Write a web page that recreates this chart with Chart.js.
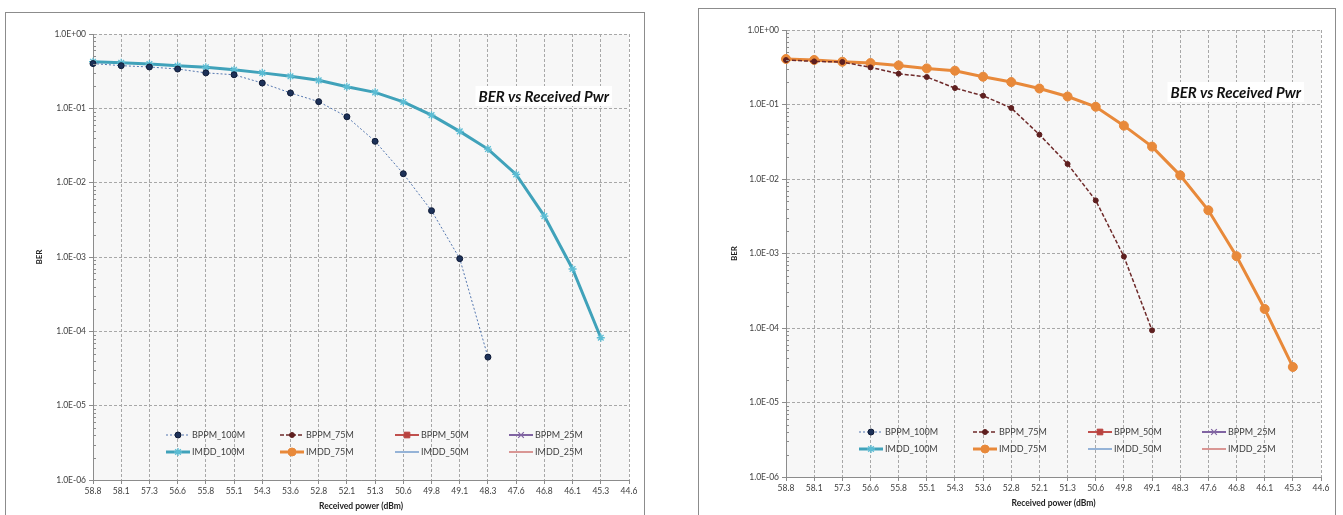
<!DOCTYPE html>
<html>
<head>
<meta charset="utf-8">
<script src="https://cdn.jsdelivr.net/npm/chart.js@4.4.1/dist/chart.umd.min.js"></script>
<style>
html, body { margin:0; padding:0; background:#fff; overflow:hidden; width:1343px; height:515px; }
.frame { position:absolute; border:1px solid #8c8c8c; box-sizing:border-box; }
canvas { position:absolute; top:0; }
</style>
</head>
<body>
<div class="frame" style="left:5px;top:12px;width:640px;height:520px"></div>
<div class="frame" style="left:698px;top:8px;width:638px;height:520px"></div>
<canvas id="chart-left" width="671" height="515" style="left:0"></canvas>
<canvas id="chart-right" width="672" height="515" style="left:671px"></canvas>
<script>
// x categories (received power, dBm)
const powerLabels = ['58.8','58.1','57.3','56.6','55.8','55.1','54.3','53.6','52.8','52.1',
                     '51.3','50.6','49.8','49.1','48.3','47.6','46.8','46.1','45.3','44.6'];
// log axis decades + their labels
const berTicks = [1e-6, 1e-5, 1e-4, 1e-3, 1e-2, 1e-1, 1];
const berLabels = ['1.0E-06','1.0E-05','1.0E-04','1.0E-03','1.0E-02','1.0E-01','1.0E+00'];
const seriesNames = ['BPPM_100M','BPPM_75M','BPPM_50M','BPPM_25M','IMDD_100M','IMDD_75M','IMDD_50M','IMDD_25M'];

// left chart
const bppm100 = [0.40, 0.375, 0.36, 0.338, 0.30, 0.283, 0.219, 0.161, 0.123, 0.077,
                 0.036, 0.0132, 0.0042, 0.00095, 0.000045];
const imdd100 = [0.424, 0.41, 0.395, 0.375, 0.356, 0.331, 0.30, 0.27, 0.238, 0.195,
                 0.164, 0.122, 0.081, 0.049, 0.0283, 0.0129, 0.00355, 0.00069, 0.000082];
// right chart
const bppm75 = [0.395, 0.379, 0.372, 0.315, 0.259, 0.234, 0.166, 0.131, 0.0898, 0.0394,
                0.0159, 0.00516, 0.00091, 0.000093];
const imdd75 = [0.408, 0.396, 0.375, 0.36, 0.335, 0.305, 0.284, 0.236, 0.20, 0.164,
                0.128, 0.0933, 0.052, 0.0272, 0.0112, 0.0038, 0.00092, 0.00018, 0.00003];

const chartTitle = 'BER vs Received Pwr';
const xTitle = 'Received power (dBm)';
const yTitle = 'BER';

const FONT = 'Lato, "Open Sans", sans-serif';
const TXT = '#404040';

// series looks (Excel defaults)
const looks = {
  BPPM_100M: {borderColor:'#5577b0', borderWidth:1, borderDash:[2,2], pointStyle:'circle', pointRadius:3,
              pointBackgroundColor:'#1d3158', pointBorderColor:'#0e1a36', pointBorderWidth:1, order:1},
  BPPM_75M:  {borderColor:'#6e2a2a', borderWidth:1.5, borderDash:[4,2], pointStyle:'circle', pointRadius:2.5,
              pointBackgroundColor:'#5e1f1f', pointBorderColor:'#5e1f1f', pointBorderWidth:1, order:1},
  BPPM_50M:  {borderColor:'#c0504d', borderWidth:2, borderDash:[], pointStyle:'rect', pointRadius:4,
              pointBackgroundColor:'#b8423f', pointBorderColor:'#b8423f', pointBorderWidth:1, order:3},
  BPPM_25M:  {borderColor:'#8064a2', borderWidth:2, borderDash:[], pointStyle:'crossRot', pointRadius:4,
              pointBackgroundColor:'#8064a2', pointBorderColor:'#8064a2', pointBorderWidth:1.2, order:3},
  IMDD_100M: {borderColor:'#40a2ba', borderWidth:3, borderDash:[], pointStyle:'star', pointRadius:4,
              pointBackgroundColor:'#5cbdd4', pointBorderColor:'#5cbdd4', pointBorderWidth:1.3, order:2},
  IMDD_75M:  {borderColor:'#e8893a', borderWidth:3, borderDash:[], pointStyle:'circle', pointRadius:4.5,
              pointBackgroundColor:'#e8893a', pointBorderColor:'#e8893a', pointBorderWidth:1, order:2},
  IMDD_50M:  {borderColor:'#95b3d7', borderWidth:2, borderDash:[], pointStyle:'line', pointRadius:4,
              pointBackgroundColor:'#95b3d7', pointBorderColor:'#95b3d7', pointBorderWidth:1, order:3},
  IMDD_25M:  {borderColor:'#d99694', borderWidth:2, borderDash:[], pointStyle:'circle', pointRadius:0,
              pointBackgroundColor:'#d99694', pointBorderColor:'#d99694', pointBorderWidth:0, order:3}
};

function marker(ctx, style, r, x, y) {
  if (!r) return;
  if (Chart.helpers && Chart.helpers.drawPoint) {
    Chart.helpers.drawPoint(ctx, {pointStyle: style, radius: r, rotation: 0, borderWidth: ctx.lineWidth}, x, y);
    return;
  }
  ctx.beginPath(); ctx.arc(x, y, r, 0, Math.PI * 2); ctx.fill(); ctx.stroke();
}

const decor = {
  id: 'decor',
  beforeDraw(chart) {
    const a = chart.chartArea, ctx = chart.ctx;
    ctx.save();
    ctx.fillStyle = '#f7f7f7';
    ctx.fillRect(a.left, a.top, a.right - a.left, a.bottom - a.top);
    ctx.restore();
  },
  afterDraw(chart) {
    const a = chart.chartArea, ctx = chart.ctx, y = chart.scales.y;
    ctx.save();
    // minor log ticks on the value axis
    ctx.strokeStyle = '#8c8c8c'; ctx.lineWidth = 1;
    for (let i = 0; i < berTicks.length - 1; i++) {
      for (let m = 2; m < 10; m++) {
        const py = Math.round(y.getPixelForValue(berTicks[i] * m)) + 0.5;
        ctx.beginPath(); ctx.moveTo(a.left, py); ctx.lineTo(a.left + 3, py); ctx.stroke();
      }
    }
    // title box
    ctx.font = 'italic bold 15px ' + FONT;
    const w = ctx.measureText(chartTitle).width;
    const tx = a.right - 20, ty = a.top + 62;
    ctx.fillStyle = '#fff';
    ctx.fillRect(tx - w - 3, ty - 10, w + 6, 20);
    ctx.fillStyle = '#111';
    ctx.textAlign = 'right'; ctx.textBaseline = 'middle';
    ctx.fillText(chartTitle, tx, ty + 1);
    // legend, 4 columns x 2 rows inside the plot
    const cols = [73, 187, 302, 416], rows = [45, 28];
    ctx.font = '9px ' + FONT; ctx.textAlign = 'left';
    chart.data.datasets.forEach((ds, i) => {
      const lx = a.left + cols[i % 4], ly = a.bottom - rows[Math.floor(i / 4)];
      ctx.strokeStyle = ds.borderColor; ctx.lineWidth = ds.borderWidth;
      ctx.setLineDash(ds.borderDash || []);
      ctx.beginPath(); ctx.moveTo(lx, ly); ctx.lineTo(lx + 24, ly); ctx.stroke();
      ctx.setLineDash([]);
      ctx.fillStyle = ds.pointBackgroundColor; ctx.strokeStyle = ds.pointBorderColor;
      ctx.lineWidth = ds.pointBorderWidth;
      marker(ctx, ds.pointStyle, Math.min(ds.pointRadius, 4), lx + 12, ly);
      ctx.fillStyle = TXT;
      ctx.fillText(ds.label, lx + 26, ly + 0.5);
    });
    ctx.restore();
  }
};

function makeChart(id, dataMap, box) {
  const datasets = seriesNames.map(name => Object.assign({
    label: name,
    data: dataMap[name] || [],
    fill: false,
    tension: 0,
    spanGaps: false
  }, looks[name]));

  return new Chart(document.getElementById(id), {
    type: 'line',
    data: { labels: powerLabels, datasets },
    options: {
      responsive: false,
      animation: false,
      events: [],
      layout: { padding: { left: box.padLeft, top: box.padTop, right: box.padRight, bottom: 0 } },
      plugins: { legend: { display: false }, title: { display: false }, tooltip: { enabled: false } },
      scales: {
        x: {
          type: 'category',
          offset: false,
          grid: { color: '#a8a8a8', lineWidth: 1, tickLength: 4, tickColor: '#8c8c8c', tickBorderDash: [], offset: false },
          border: { display: true, color: '#8c8c8c', width: 1, dash: [3, 2] },
          ticks: { color: TXT, font: { family: FONT, size: 8.5 }, padding: 2, maxRotation: 0, autoSkip: false },
          title: { display: true, text: xTitle, color: '#222', font: { family: FONT, size: 8.5, weight: 'bold' },
                   padding: { top: 2, bottom: box.xTitleBottom } },
          afterFit(s) { s.height = box.xHeight; }
        },
        y: {
          type: 'logarithmic',
          min: berTicks[0],
          max: berTicks[berTicks.length - 1],
          afterBuildTicks(s) { s.ticks = berTicks.map(v => ({ value: v, major: true })); },
          grid: { color: '#a8a8a8', lineWidth: 1, tickLength: 4, tickColor: '#8c8c8c', tickBorderDash: [] },
          border: { display: true, color: '#8c8c8c', width: 1, dash: [3, 2] },
          ticks: { color: TXT, font: { family: FONT, size: 8.5 }, padding: 3, autoSkip: false,
                   callback: (v, i) => berLabels[i] },
          title: { display: true, text: yTitle, color: '#222', font: { family: FONT, size: 8, weight: 'bold' },
                   padding: { top: 4, bottom: 4 } },
          afterFit(s) { s.width = box.yWidth; }
        }
      }
    },
    plugins: [decor]
  });
}

makeChart('chart-left', { BPPM_100M: bppm100, IMDD_100M: imdd100 },
  { padLeft: 31, padTop: 34, padRight: 42, yWidth: 62, xHeight: 35, xTitleBottom: 4 });
makeChart('chart-right', { BPPM_75M: bppm75, IMDD_75M: imdd75 },
  { padLeft: 55, padTop: 30, padRight: 22, yWidth: 60, xHeight: 38, xTitleBottom: 7 });
</script>
</body>
</html>
